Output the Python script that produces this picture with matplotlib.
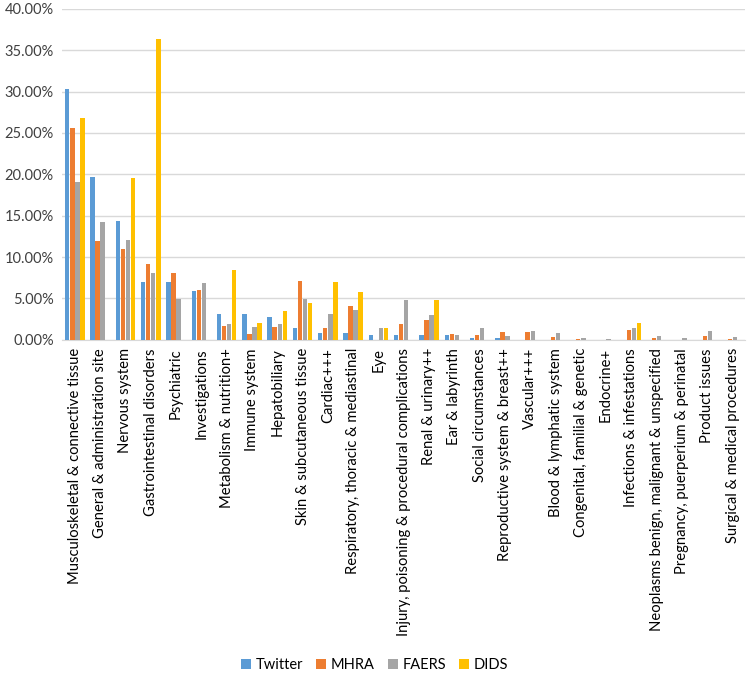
import numpy as np
import matplotlib.pyplot as plt
from matplotlib.ticker import PercentFormatter

plt.rcParams['font.family'] = ['Lato', 'DejaVu Sans']

categories = [
    "Musculoskeletal & connective tissue", "General & administration site",
    "Nervous system", "Gastrointestinal disorders", "Psychiatric",
    "Investigations", "Metabolism & nutrition+", "Immune system",
    "Hepatobiliary", "Skin & subcutaneous tissue", "Cardiac+++",
    "Respiratory, thoracic & mediastinal", "Eye",
    "Injury, poisoning & procedural complications", "Renal & urinary++",
    "Ear & labyrinth", "Social circumstances",
    "Reproductive system & breast++", "Vascular+++",
    "Blood & lymphatic system", "Congenital, familial & genetic",
    "Endocrine+", "Infections & infestations",
    "Neoplasms benign, malignant & unspecified",
    "Pregnancy, puerperium & perinatal", "Product issues",
    "Surgical & medical procedures",
]

# values in %
twitter = [30.34, 19.68, 14.34, 6.99, 6.99, 5.86, 3.07, 3.06, 2.78, 1.37, 0.81,
           0.81, 0.52, 0.52, 0.52, 0.52, 0.24, 0.24, 0.0, 0.0, 0.0, 0.0, 0.0,
           0.0, 0.0, 0.0, 0.0]
mhra = [25.6, 11.92, 10.95, 9.13, 8.04, 5.98, 1.66, 0.69, 1.53, 7.06, 1.45,
        4.07, 0.0, 1.9, 2.34, 0.73, 0.52, 0.93, 0.89, 0.36, 0.04, 0.0, 1.13,
        0.16, 0.03, 0.48, 0.05]
faers = [19.07, 14.26, 12.12, 8.04, 4.93, 6.83, 1.94, 1.49, 1.94, 4.96, 3.06,
         3.55, 1.37, 4.84, 2.94, 0.52, 1.37, 0.4, 1.09, 0.77, 0.24, 0.05, 1.41,
         0.44, 0.16, 1.05, 0.28]
dids = [26.83, 0.0, 19.52, 36.32, 0.0, 0.0, 8.48, 1.98, 3.47, 4.48, 6.94,
        5.77, 1.45, 0.0, 4.8, 0.0, 0.0, 0.0, 0.0, 0.0, 0.0, 0.0, 1.98,
        0.0, 0.0, 0.0, 0.0]

series = [("Twitter", twitter, "#5B9BD5"), ("MHRA", mhra, "#ED7D31"),
          ("FAERS", faers, "#A5A5A5"), ("DIDS", dids, "#FFC000")]

fig = plt.figure(figsize=(7.49, 6.85), dpi=100)
ax = fig.add_axes([0.083, 0.504, 0.912, 0.483])

x = np.arange(len(categories))
w = 0.175
for i, (name, vals, col) in enumerate(series):
    ax.bar(x + (i - 1.5) * 0.2, vals, width=w, color=col, label=name, zorder=3)

ax.set_xlim(-0.5, len(categories) - 0.5)
ax.set_ylim(0, 40)
ax.set_yticks(np.arange(0, 41, 5))
ax.yaxis.set_major_formatter(PercentFormatter(decimals=2))
ax.grid(axis='y', color='#D9D9D9', linewidth=1, zorder=0)
for s in ['top', 'right', 'left']:
    ax.spines[s].set_visible(False)
ax.spines['bottom'].set_color('#D9D9D9')
ax.tick_params(axis='y', length=0, labelsize=10.5, labelcolor='#404040', pad=6)
ax.tick_params(axis='x', length=0, labelsize=10.6, labelcolor='black', pad=6)
ax.set_xticks(x)
ax.set_xticklabels(categories, rotation=90)

fig.legend(loc='lower center', bbox_to_anchor=(0.5, 0.0), ncol=4, frameon=False,
           fontsize=10.5, handlelength=0.7, handleheight=0.7, columnspacing=0.9,
           handletextpad=0.3)

fig.savefig("out.png", dpi=100)
